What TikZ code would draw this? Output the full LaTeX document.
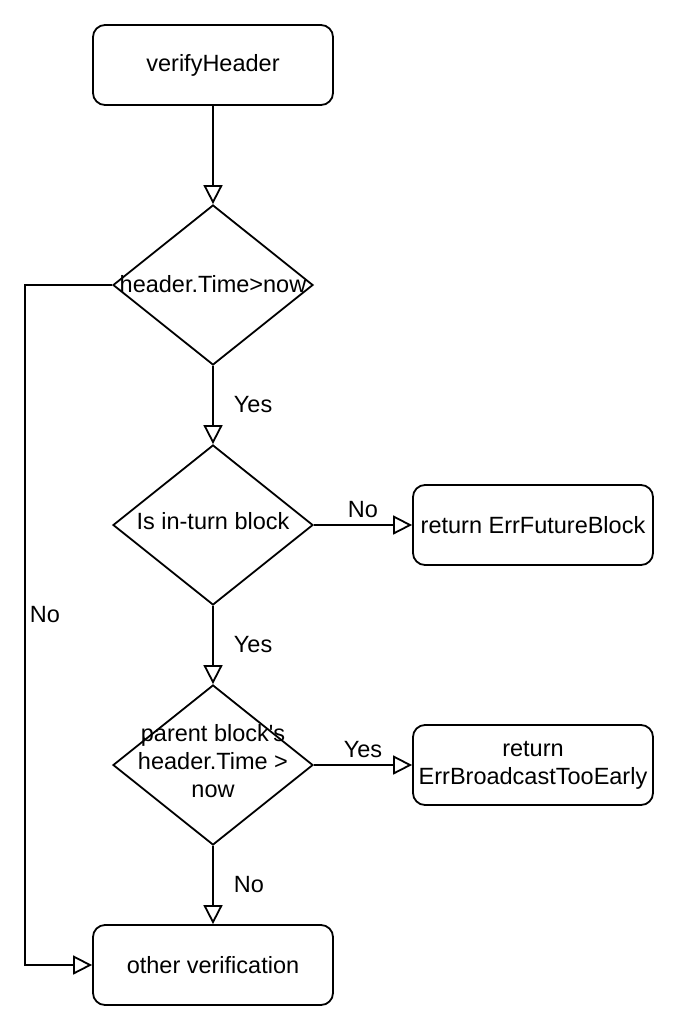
\documentclass[tikz,border=0pt]{standalone}
\usepackage{fontspec}
\setmainfont{Liberation Sans}[Ligatures=TeXOff]
\usetikzlibrary{arrows.meta,shapes.geometric}
\begin{document}
\begin{tikzpicture}[x=1pt,y=-1pt,
  every node/.style={font=\fontsize{23.5}{28}\selectfont},
  box/.style={draw=black,line width=1.8pt,rounded corners=12pt,minimum width=240pt,minimum height=80pt,inner sep=0pt,align=center},
  decision/.style={draw=black,line width=1.8pt,diamond,aspect=1.25,minimum width=200pt,minimum height=160pt,inner sep=0pt},
  txt/.style={inner sep=0pt,align=center},
  flow/.style={line width=1.8pt,-{Triangle[open,length=19pt,width=19pt,line width=1.8pt]}}]
\useasboundingbox (0,0) rectangle (674,1026);
\node[box] (start) at (213,65) {\raisebox{-2pt}{verifyHeader}};
\node[decision] (d1) at (213,285) {};
\node[txt] (d1t) at (213,284) {header.Time>now};
\node[decision] (d2) at (213,525) {};
\node[txt] (d2t) at (213,521) {Is in-turn block};
\node[box] (fut) at (533,525) {return ErrFutureBlock};
\node[decision] (d3) at (213,765) {};
\node[txt] (d3t) at (213,761) {parent block's\\header.Time >\\now};
\node[box] (early) at (533,765) {return\\ErrBroadcastTooEarly};
\node[box] (other) at (213,965) {other verification};
\coordinate (c1) at (25,285);
\coordinate (c2) at (25,965);
\draw[flow] (start.south) -- (d1.north);
\draw[flow] (d1.south) -- node[txt,right=20pt,pos=0.5] (y1) {Yes} (d2.north);
\draw[flow] (d2.east) -- node[txt,above=6pt] (n1) {No} (fut.west);
\draw[flow] (d2.south) -- node[txt,right=20pt,pos=0.5] (y2) {Yes} (d3.north);
\draw[flow] (d3.east) -- node[txt,above=6pt] (y3) {Yes} (early.west);
\draw[flow] (d3.south) -- node[txt,right=20pt,pos=0.5] (n2) {No} (other.north);
\draw[flow] (d1.west) -- (c1) -- (c2) -- (other.west);
\node[txt] (n3) at (45,615) {No};
\end{tikzpicture}
\end{document}
